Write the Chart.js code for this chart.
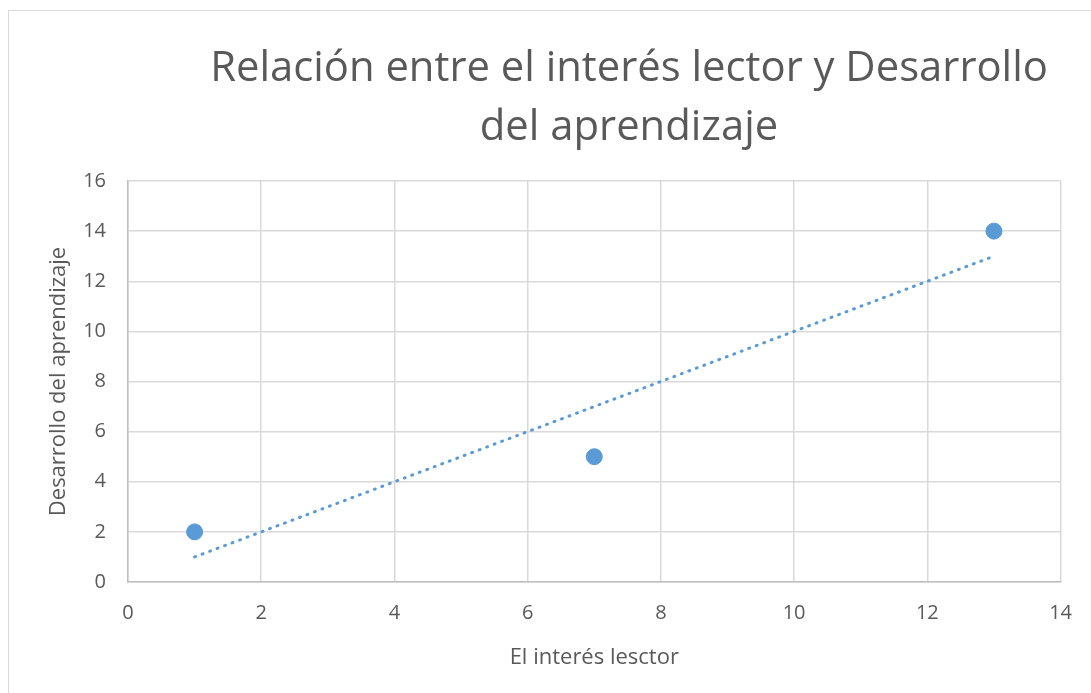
<!DOCTYPE html>
<html>
<head>
<meta charset="utf-8">
<script src="https://cdn.jsdelivr.net/npm/chart.js@4"></script>
<style>
  body { margin: 0; overflow: hidden; background: #fff; }
  #marco { position: absolute; left: 8px; top: 10px; width: 1100px; height: 700px; border: 1px solid #d9d9d9; }
  #caja { position: absolute; left: 0; top: 0; width: 1091px; height: 693px; }
</style>
</head>
<body>
<div id="marco"></div>
<div id="caja"><canvas id="grafico"></canvas></div>
<script>
// Datos
const interesLector = [1, 7, 13];
const desarrollo = [2, 5, 14];
const tendenciaX = [1, 13];
const tendenciaY = [1, 13];
const titulo = ["Relación entre el interés lector y Desarrollo", "del aprendizaje"];
const tituloX = "El interés lesctor";
const tituloY = "Desarrollo del aprendizaje";

const gris = "#595959";
const azul = "#5b9bd5";
const fuente = "'Open Sans', 'Liberation Sans', sans-serif";

// Titulo dibujado a mano para poder centrarlo como en el original
const tituloPlugin = {
    id: "tituloPlugin",
    afterDraw(chart) {
        const ctx = chart.ctx;
        ctx.save();
        ctx.fillStyle = gris;
        ctx.textAlign = "center";
        ctx.textBaseline = "middle";
        let size = 44;
        ctx.font = size + "px " + fuente;
        const w = ctx.measureText(titulo[0]).width;
        if (w > 838) size = size * 838 / w;
        ctx.font = size + "px " + fuente;
        ctx.fillText(titulo[0], 629, 69);
        ctx.fillText(titulo[1], 629, 128);
        ctx.restore();
    },
};

const puntos = interesLector.map((x, i) => ({ x: x, y: desarrollo[i] }));
const tendencia = tendenciaX.map((x, i) => ({ x: x, y: tendenciaY[i] }));

new Chart(document.getElementById("grafico"), {
    type: "scatter",
    data: {
        datasets: [
            {
                label: "Tendencia",
                data: tendencia,
                showLine: true,
                borderColor: azul,
                borderWidth: 3,
                borderDash: [1, 7],
                borderCapStyle: "round",
                pointRadius: 0,
                order: 2,
            },
            {
                label: "Datos",
                data: puntos,
                backgroundColor: azul,
                borderColor: azul,
                pointRadius: 8,
                order: 1,
            },
        ],
    },
    options: {
        responsive: true,
        maintainAspectRatio: false,
        animation: false,
        layout: { padding: { top: 181, right: 29, left: 46, bottom: 20 } },
        plugins: {
            legend: { display: false },
            tooltip: { enabled: false },
        },
        scales: {
            x: {
                min: 0,
                max: 14,
                ticks: { stepSize: 2, color: gris, padding: 19, font: { family: fuente, size: 20 } },
                grid: { color: "#d9d9d9", lineWidth: 1.5, drawTicks: false },
                border: { color: "#bfbfbf", width: 1.5 },
                title: { display: true, text: tituloX, color: gris, font: { family: fuente, size: 22 }, padding: { top: 0, bottom: 2 } },
                afterFit: (s) => { s.height = 91; },
            },
            y: {
                min: 0,
                max: 16,
                ticks: { stepSize: 2, color: gris, padding: 22, font: { family: fuente, size: 20 } },
                grid: { color: "#d9d9d9", lineWidth: 1.5, drawTicks: false },
                border: { color: "#bfbfbf", width: 1.5 },
                title: { display: true, text: tituloY, color: gris, font: { family: fuente, size: 22 }, padding: { top: 0, bottom: 0 } },
                afterFit: (s) => { s.width = 82; },
            },
        },
    },
    plugins: [tituloPlugin],
});
</script>
</body>
</html>
